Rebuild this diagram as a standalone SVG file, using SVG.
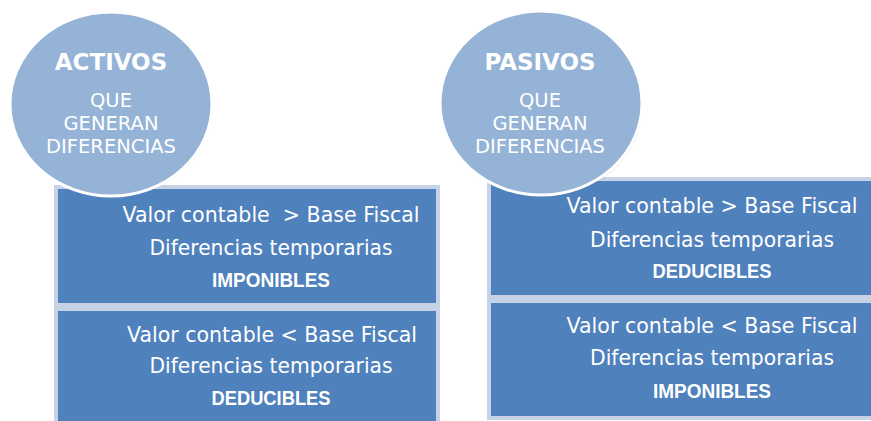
<svg xmlns="http://www.w3.org/2000/svg" width="871" height="421" viewBox="0 0 871 421">
<style>
.outer{fill:#c6d2e6}
.box{fill:#4f81bd}
.circ{fill:#95b3d7;stroke:#ffffff;stroke-width:3}
.t{font-family:"DejaVu Sans","Liberation Sans",sans-serif;fill:#ffffff;text-anchor:middle}
.bt{font-size:20.5px}
.b{font-family:"Liberation Sans",Arial,sans-serif;font-weight:bold;font-size:19.5px}
.h{font-weight:bold;font-size:23px}
.c{font-size:19.5px}
</style>
<rect width="871" height="421" fill="#ffffff"/>
<g id="activos-box1">
<rect class="outer" x="54" y="185" width="386" height="122"/>
<rect class="box" x="58" y="189" width="378" height="114"/>
<text class="t bt" x="271" y="222" xml:space="preserve" textLength="297" lengthAdjust="spacingAndGlyphs">Valor contable  &gt; Base Fiscal</text>
<text class="t bt" x="271" y="255" textLength="243" lengthAdjust="spacingAndGlyphs">Diferencias temporarias</text>
<text class="t b" x="271" y="287" textLength="118" lengthAdjust="spacingAndGlyphs">IMPONIBLES</text>
</g>
<g id="activos-box2">
<rect class="outer" x="54" y="307" width="386" height="120"/>
<rect class="box" x="58" y="311" width="378" height="114"/>
<text class="t bt" x="272" y="342" textLength="290" lengthAdjust="spacingAndGlyphs">Valor contable &lt; Base Fiscal</text>
<text class="t bt" x="271" y="373" textLength="243" lengthAdjust="spacingAndGlyphs">Diferencias temporarias</text>
<text class="t b" x="271" y="405" textLength="119" lengthAdjust="spacingAndGlyphs">DEDUCIBLES</text>
</g>
<g id="pasivos-box1">
<rect class="outer" x="487" y="177" width="390" height="122"/>
<rect class="box" x="491" y="181" width="386" height="114"/>
<text class="t bt" x="712" y="213" textLength="291" lengthAdjust="spacingAndGlyphs">Valor contable &gt; Base Fiscal</text>
<text class="t bt" x="712" y="247" textLength="244" lengthAdjust="spacingAndGlyphs">Diferencias temporarias</text>
<text class="t b" x="712" y="278" textLength="119" lengthAdjust="spacingAndGlyphs">DEDUCIBLES</text>
</g>
<g id="pasivos-box2">
<rect class="outer" x="487" y="299" width="390" height="121"/>
<rect class="box" x="491" y="303" width="386" height="113"/>
<text class="t bt" x="712" y="333" textLength="291" lengthAdjust="spacingAndGlyphs">Valor contable &lt; Base Fiscal</text>
<text class="t bt" x="712" y="365" textLength="244" lengthAdjust="spacingAndGlyphs">Diferencias temporarias</text>
<text class="t b" x="712" y="398" textLength="118" lengthAdjust="spacingAndGlyphs">IMPONIBLES</text>
</g>
<g id="activos">
<ellipse cx="112" cy="106" rx="101" ry="91" fill="#000" opacity="0.08"/>
<ellipse class="circ" cx="111" cy="104" rx="101" ry="92"/>
<text class="t h" x="111" y="70">ACTIVOS</text>
<text class="t c" x="111" y="107">QUE</text>
<text class="t c" x="111" y="130">GENERAN</text>
<text class="t c" x="111" y="153">DIFERENCIAS</text>
</g>
<g id="pasivos">
<ellipse cx="542" cy="106" rx="101" ry="91" fill="#000" opacity="0.08"/>
<ellipse class="circ" cx="541" cy="103" rx="101" ry="92"/>
<text class="t h" x="540" y="70">PASIVOS</text>
<text class="t c" x="540" y="107">QUE</text>
<text class="t c" x="540" y="130">GENERAN</text>
<text class="t c" x="540" y="153">DIFERENCIAS</text>
</g>
<g id="connectors"></g>
</svg>
